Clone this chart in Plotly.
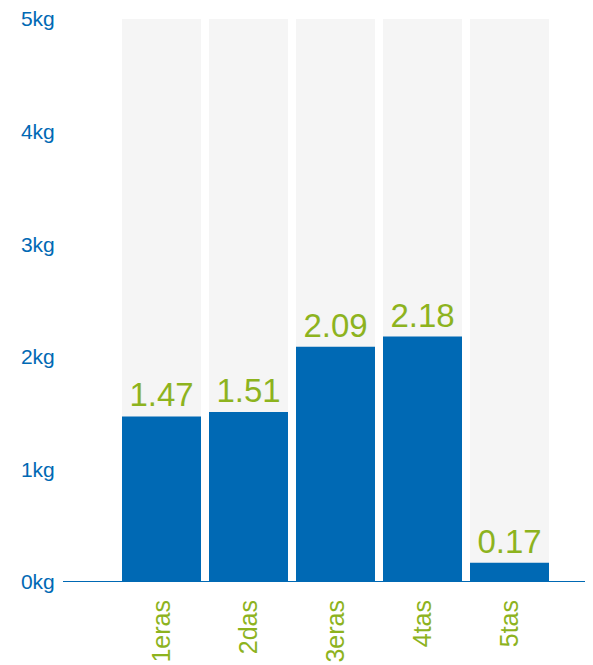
import plotly.graph_objects as go

categories = ["1eras", "2das", "3eras", "4tas", "5tas"]
values = [1.47, 1.51, 2.09, 2.18, 0.17]
max_value = 5
tick_vals = [0, 1, 2, 3, 4, 5]
tick_text = ["0kg", "1kg", "2kg", "3kg", "4kg", "5kg"]

BLUE = "#0069b4"
GREEN = "#8db31e"
GRAY = "#f5f5f5"

L, R, T, B = 110, 48, 11, 91
PW = 593 - L - R

fig = go.Figure()
fig.add_trace(go.Bar(
    x=categories, y=[max_value] * len(categories),
    marker=dict(color=GRAY, line=dict(width=0)),
    hoverinfo="skip", showlegend=False,
))
fig.add_trace(go.Bar(
    x=categories, y=values,
    marker=dict(color=BLUE, line=dict(width=0)),
    text=[f"{v:.2f}" for v in values],
    textposition="outside",
    textfont=dict(color=GREEN, size=33, family="Liberation Sans, Arial, sans-serif"),
    cliponaxis=False,
    showlegend=False,
))

fig.add_shape(type="line", xref="paper", yref="y",
              x0=(55 - L) / PW, x1=(585 - L) / PW, y0=0, y1=0,
              line=dict(color=BLUE, width=2), layer="above")

fig.update_layout(
    width=593, height=665,
    margin=dict(l=L, r=R, t=T, b=B, autoexpand=False),
    barmode="overlay",
    bargap=0.092,
    plot_bgcolor="white", paper_bgcolor="white",
    font=dict(family="Liberation Sans, Arial, sans-serif"),
)
fig.update_xaxes(
    showgrid=False, zeroline=False, showline=False, automargin=False,
    tickangle=-90, tickfont=dict(color=GREEN, size=25),
    ticks="outside", ticklen=7, tickcolor="rgba(0,0,0,0)",
    range=[-0.5, 4.5], ticklabeloverflow="allow",
)
fig.update_yaxes(
    range=[0, max_value], tickvals=tick_vals, ticktext=tick_text,
    showgrid=False, zeroline=False, showline=False, automargin=False,
    tickfont=dict(color=BLUE, size=21),
    ticks="outside", ticklen=58, tickcolor="rgba(0,0,0,0)",
    ticklabeloverflow="allow",
)

fig.write_html("out.html")
